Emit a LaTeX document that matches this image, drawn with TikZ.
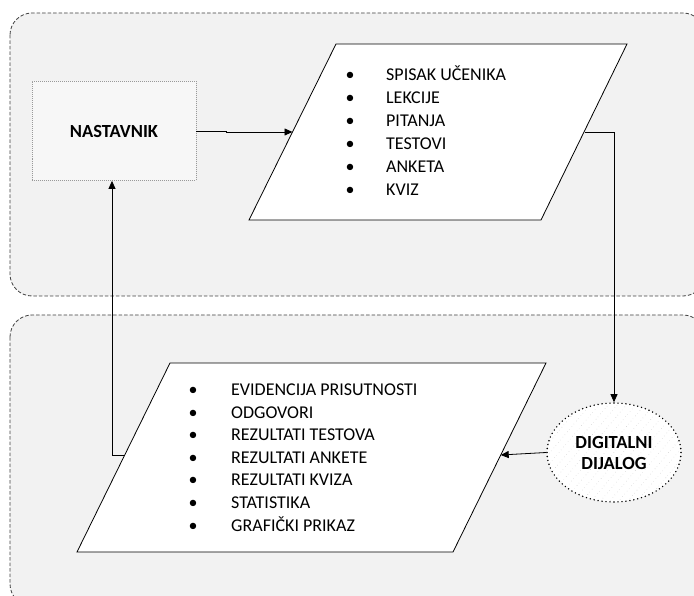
\documentclass[tikz,border=0pt]{standalone}
\usepackage{fontspec}
\setmainfont{Carlito}
\usetikzlibrary{arrows.meta,shapes.geometric,patterns.meta}
\definecolor{panel}{HTML}{F2F2F2}
\definecolor{boxfill}{HTML}{F7F7F7}
\definecolor{panelline}{HTML}{404040}
\tikzset{
  panelbox/.style={draw=panelline, fill=panel, dash pattern=on 3.5pt off 2pt, line width=0.8pt, rounded corners=22pt},
  actorbox/.style={draw=gray!80, fill=boxfill, dash pattern=on 1pt off 1pt, line width=0.8pt, minimum width=164pt, minimum height=99pt, font=\fontsize{18.5}{21}\selectfont\bfseries},
  databox/.style={draw=black, fill=white, line width=0.8pt},
  dialog/.style={ellipse, draw=black, line width=1.6pt, dash pattern=on 0pt off 4pt, line cap=round, minimum width=134pt, minimum height=99pt, inner sep=0pt, align=center, font=\fontsize{18.5}{21}\selectfont\bfseries,
     preaction={fill=white}, preaction={pattern={Lines[angle=50,distance=7pt,line width=0.8pt]}, pattern color=gray!40}},
  listtext/.style={inner sep=0pt, anchor=base west},
  conn/.style={draw=black, line width=0.8pt, -{Triangle[length=8pt,width=7pt]}},
}
\newcommand{\bul}[2]{\makebox[0pt]{\textbullet}\hspace{#1}#2}
\begin{document}
\begin{tikzpicture}[x=1pt,y=-1pt]
\useasboundingbox (0,0) rectangle (694,596);
% panels
\path[panelbox] (10,13) rectangle (705,296);
\path[panelbox] (10,315) rectangle (705,606);
% top data parallelogram
\path[databox] (336,44) -- (627,44) -- (541,220) -- (249,220) -- cycle;
\coordinate (p1l) at (292.5,132);
\coordinate (p1r) at (584.5,132);
% bottom data parallelogram
\path[databox] (170,363) -- (546,363) -- (453,552) -- (77,552) -- cycle;
\coordinate (p2l) at (124.7,455);
\coordinate (p2r) at (500.7,455);
% nodes
\node[actorbox] (nast) at (114,131) {NASTAVNIK};
\node[dialog] (dd) at (614,452.5) {DIGITALNI\\DIJALOG};
\node[listtext] (l1) at (350,80.5) {\fontsize{18}{23}\selectfont\begin{tabular}[t]{@{}l@{}}
\bul{36pt}{SPISAK UČENIKA}\\
\bul{36pt}{LEKCIJE}\\
\bul{36pt}{PITANJA}\\
\bul{36pt}{TESTOVI}\\
\bul{36pt}{ANKETA}\\
\bul{36pt}{KVIZ}
\end{tabular}};
\node[listtext] (l2) at (193,395.5) {\fontsize{18}{22.6}\selectfont\begin{tabular}[t]{@{}l@{}}
\bul{38pt}{EVIDENCIJA PRISUTNOSTI}\\
\bul{38pt}{ODGOVORI}\\
\bul{38pt}{REZULTATI TESTOVA}\\
\bul{38pt}{REZULTATI ANKETE}\\
\bul{38pt}{REZULTATI KVIZA}\\
\bul{38pt}{STATISTIKA}\\
\bul{38pt}{GRAFIČKI PRIKAZ}
\end{tabular}};
% connectors
\draw[conn] (nast.east) -- ++(30,0) |- (p1l);
\draw[conn] (p1r) -| (dd.north);
\draw[conn] (dd.west) -- (p2r);
\draw[conn] (p2l) -| ([xshift=-2pt]nast.south);
\end{tikzpicture}
\end{document}
